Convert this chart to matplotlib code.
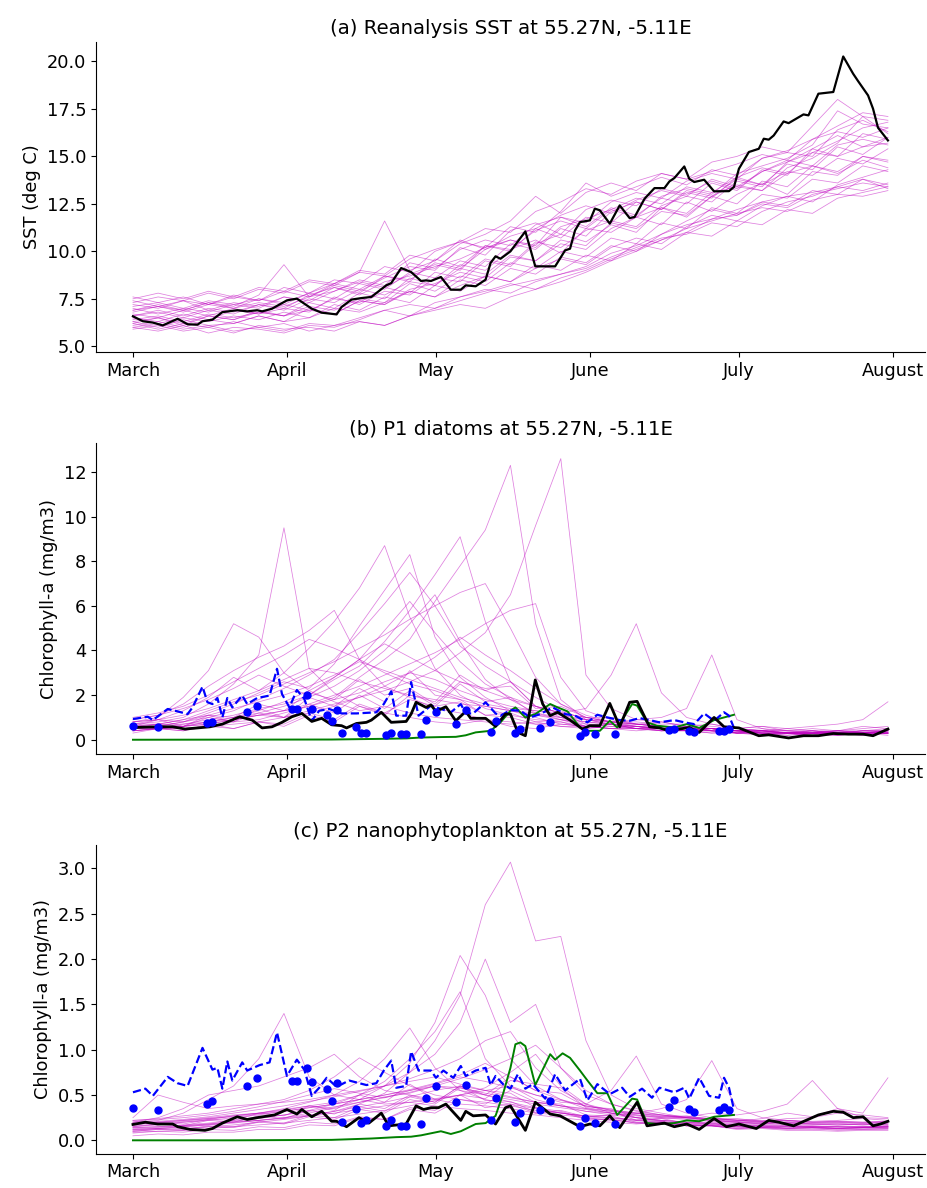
import numpy as np
import matplotlib.pyplot as plt

# month ticks (days since 1 March)
month_days = [0, 31, 61, 92, 122, 153]
month_names = ["March", "April", "May", "June", "July", "August"]

# ensemble members are sampled every ~5 days from 1 March to 31 July
ens_day = np.linspace(0, 152, 31)

sst_ens = [
    [6.2, 6.5, 6.1, 6.6, 6.4, 6.9, 6.6, 7.3, 7.0, 7.8, 7.5, 8.6, 8.2, 9.3, 9.0, 10.1, 10.6, 9.9, 11.2, 11.0, 11.8, 11.4, 12.6, 12.1, 13.0, 13.6, 13.0, 14.2, 14.0, 15.0, 14.7],
    [7.6, 7.3, 7.6, 7.2, 7.7, 7.4, 8.1, 7.8, 8.5, 8.3, 9.2, 8.9, 10.0, 10.5, 10.2, 11.3, 11.0, 12.1, 13.6, 12.9, 13.4, 13.9, 13.5, 14.3, 14.0, 14.9, 15.2, 15.0, 16.4, 16.9, 16.3],
    [6.0, 5.8, 6.1, 5.7, 6.0, 5.9, 5.7, 6.1, 6.0, 6.4, 6.9, 6.6, 7.3, 7.6, 7.9, 8.3, 8.0, 8.6, 9.0, 9.6, 10.1, 10.6, 11.0, 11.7, 11.9, 12.5, 12.3, 13.0, 13.3, 13.6, 13.4],
    [6.8, 7.1, 6.9, 7.3, 7.1, 7.7, 9.3, 7.6, 8.2, 7.9, 8.6, 9.2, 9.0, 10.2, 9.8, 11.1, 11.5, 10.9, 12.2, 12.7, 12.4, 13.3, 13.0, 13.7, 13.3, 14.2, 14.8, 14.5, 15.6, 15.9, 15.6],
    [6.5, 6.3, 6.7, 6.4, 6.9, 6.7, 7.0, 6.8, 7.6, 7.2, 7.9, 7.7, 8.6, 8.4, 9.5, 9.2, 10.4, 10.9, 10.5, 11.4, 11.0, 12.3, 11.8, 12.9, 12.5, 13.7, 13.4, 14.5, 14.1, 14.8, 14.4],
    [7.2, 7.0, 7.4, 6.9, 7.3, 7.1, 7.6, 7.4, 8.1, 7.8, 8.7, 8.4, 9.6, 9.2, 10.3, 10.0, 11.2, 10.7, 11.8, 11.5, 12.6, 12.2, 13.1, 12.8, 13.9, 13.5, 14.6, 14.3, 15.5, 15.1, 16.0],
    [6.1, 6.3, 6.0, 6.4, 6.2, 6.6, 6.3, 7.0, 6.7, 7.4, 7.2, 7.9, 7.6, 8.5, 8.2, 9.1, 8.8, 9.7, 9.4, 10.3, 10.0, 10.9, 11.6, 12.2, 11.9, 12.6, 12.4, 13.2, 13.0, 13.8, 13.5],
    [7.0, 6.7, 7.0, 6.8, 7.2, 7.0, 7.6, 7.3, 7.9, 8.4, 8.1, 8.8, 9.3, 9.0, 10.3, 10.1, 11.1, 11.6, 11.2, 12.2, 12.8, 12.5, 13.4, 13.1, 13.9, 14.4, 14.1, 15.2, 15.8, 16.5, 16.8],
    [6.3, 6.0, 6.4, 6.1, 6.2, 6.6, 6.3, 6.5, 7.0, 6.8, 7.3, 7.9, 7.6, 8.2, 8.7, 8.4, 9.1, 9.6, 9.3, 10.2, 10.7, 10.4, 11.3, 11.9, 11.6, 12.4, 12.9, 12.6, 13.5, 13.9, 14.3],
    [6.6, 6.8, 6.5, 6.9, 6.7, 7.2, 6.9, 7.5, 7.3, 8.0, 7.7, 8.4, 8.2, 9.1, 8.8, 9.8, 9.5, 10.6, 10.3, 11.5, 11.2, 12.1, 11.9, 12.9, 13.5, 13.2, 14.4, 14.9, 15.7, 17.1, 16.2],
    [7.4, 7.1, 7.4, 7.2, 7.6, 7.4, 7.9, 7.6, 8.3, 8.0, 8.7, 8.5, 9.4, 9.1, 10.1, 10.6, 10.3, 11.8, 11.3, 12.3, 11.9, 12.8, 12.5, 13.6, 13.2, 14.3, 14.0, 15.4, 16.1, 15.5, 16.0],
    [5.9, 6.1, 5.8, 6.0, 5.7, 6.1, 5.9, 6.0, 5.8, 6.3, 6.1, 6.6, 6.9, 7.2, 7.0, 7.6, 8.0, 8.4, 8.9, 9.5, 10.0, 10.6, 11.2, 11.6, 12.0, 12.3, 12.1, 12.7, 13.0, 12.9, 13.2],
    [6.9, 7.2, 6.9, 7.3, 7.0, 7.5, 7.2, 7.8, 7.5, 8.3, 8.0, 8.9, 8.6, 9.5, 9.2, 10.4, 10.1, 11.2, 10.8, 12.1, 12.6, 12.2, 13.2, 12.9, 13.8, 13.5, 14.2, 14.0, 14.9, 14.6, 15.4],
    [6.4, 6.6, 6.3, 6.7, 6.5, 6.8, 6.6, 7.1, 6.9, 7.5, 7.3, 8.3, 7.9, 8.7, 8.4, 9.4, 9.1, 10.0, 9.7, 10.7, 10.4, 11.5, 11.2, 12.3, 12.0, 13.0, 12.8, 13.8, 13.6, 14.5, 14.2],
    [7.1, 7.3, 7.0, 7.4, 7.2, 7.5, 7.3, 7.8, 8.3, 8.9, 11.6, 9.0, 9.5, 10.6, 10.1, 10.8, 11.2, 11.9, 12.4, 12.0, 12.7, 13.2, 12.9, 13.8, 13.4, 14.2, 14.7, 15.2, 15.0, 15.5, 15.7],
    [6.2, 5.9, 6.2, 6.0, 6.3, 6.0, 5.8, 6.2, 6.1, 6.5, 6.9, 7.2, 7.0, 7.6, 8.0, 7.8, 8.4, 8.8, 9.1, 9.7, 10.2, 10.7, 10.9, 11.5, 11.3, 12.1, 12.6, 12.9, 13.4, 13.8, 13.3],
    [6.7, 6.5, 6.9, 6.6, 7.0, 6.7, 7.2, 6.9, 7.5, 7.3, 8.1, 7.8, 8.9, 8.6, 9.6, 9.3, 10.5, 10.2, 11.1, 11.6, 11.3, 12.4, 12.9, 12.6, 13.7, 13.4, 14.7, 15.4, 15.0, 16.2, 15.9],
    [7.5, 7.8, 7.5, 7.9, 7.6, 8.1, 7.9, 8.5, 8.3, 9.0, 8.8, 9.8, 9.5, 10.4, 10.9, 11.6, 12.9, 12.0, 13.1, 13.6, 13.2, 14.1, 13.8, 14.2, 14.6, 15.1, 14.8, 15.9, 16.3, 16.0, 16.5],
    [6.0, 6.2, 5.9, 6.1, 5.8, 6.0, 6.2, 5.8, 6.1, 6.3, 6.1, 6.6, 7.0, 7.4, 7.8, 8.2, 8.5, 8.8, 9.2, 9.9, 10.3, 10.9, 11.4, 11.7, 12.2, 12.6, 12.9, 13.1, 13.4, 13.2, 13.6],
    [6.6, 6.9, 6.6, 7.0, 6.8, 7.2, 7.0, 7.7, 8.1, 7.7, 8.4, 8.7, 9.2, 9.6, 10.2, 10.6, 10.2, 11.3, 11.7, 12.2, 11.8, 12.9, 13.3, 13.0, 14.1, 14.5, 14.9, 15.6, 17.4, 16.7, 16.5],
    [6.3, 6.5, 6.2, 6.6, 6.4, 6.8, 6.6, 6.9, 6.7, 7.4, 7.2, 8.0, 8.3, 8.9, 8.6, 9.7, 9.5, 10.4, 10.1, 11.2, 11.8, 12.3, 12.0, 13.1, 13.4, 13.2, 14.1, 14.5, 14.2, 15.0, 14.8],
    [7.3, 7.6, 7.4, 7.8, 7.5, 8.0, 7.8, 8.4, 8.2, 8.9, 8.7, 9.6, 10.1, 10.5, 11.2, 11.0, 12.1, 12.6, 13.3, 13.0, 13.7, 14.1, 13.8, 14.7, 15.0, 15.5, 15.2, 16.6, 18.0, 17.1, 16.9],
    [6.5, 6.2, 6.5, 6.3, 6.6, 6.4, 6.8, 6.5, 7.2, 6.9, 7.6, 7.3, 8.2, 7.9, 8.7, 8.4, 9.3, 9.0, 9.8, 9.5, 10.4, 10.1, 11.0, 10.8, 11.6, 11.4, 12.2, 12.0, 12.8, 13.1, 13.4],
    [6.9, 7.1, 6.8, 7.2, 7.0, 7.3, 7.1, 7.6, 7.9, 8.5, 8.2, 9.4, 9.1, 10.1, 10.6, 10.3, 11.4, 11.8, 11.5, 12.6, 13.1, 12.8, 13.7, 14.1, 13.8, 14.9, 15.3, 15.9, 16.6, 17.3, 17.1],
]

p1_ens = [
    [0.5, 0.7, 0.6, 1.0, 0.8, 1.2, 1.0, 1.9, 1.5, 2.3, 1.7, 3.1, 2.0, 1.8, 1.1, 1.0, 0.7, 0.8, 0.5, 0.7, 0.5, 0.4, 0.6, 0.4, 0.3, 0.4, 0.3, 0.4, 0.3, 0.4, 0.5],
    [0.7, 0.8, 1.0, 1.6, 2.5, 3.8, 9.5, 3.2, 2.1, 1.5, 1.2, 1.0, 0.8, 0.7, 0.9, 0.6, 0.5, 0.7, 0.6, 0.5, 0.4, 0.5, 0.4, 0.3, 0.4, 0.3, 0.3, 0.2, 0.3, 0.3, 0.4],
    [0.4, 0.5, 0.5, 0.6, 0.8, 0.9, 1.2, 1.5, 1.9, 2.8, 3.6, 4.5, 6.2, 7.8, 9.4, 12.3, 5.2, 1.8, 0.9, 0.7, 0.6, 0.5, 0.4, 0.5, 0.3, 0.3, 0.2, 0.3, 0.2, 0.3, 0.3],
    [0.6, 0.5, 0.7, 0.8, 0.9, 1.1, 1.0, 1.3, 1.6, 1.9, 2.2, 2.6, 3.1, 3.9, 4.8, 6.5, 9.6, 12.6, 2.9, 1.4, 0.9, 0.8, 0.6, 0.5, 0.4, 0.4, 0.3, 0.3, 0.4, 0.3, 0.4],
    [0.8, 0.9, 1.3, 1.9, 2.8, 2.2, 3.0, 4.1, 5.3, 6.8, 8.7, 5.5, 3.2, 2.0, 1.4, 1.1, 0.9, 0.8, 0.6, 0.5, 0.6, 0.4, 0.5, 0.4, 0.3, 0.3, 0.3, 0.4, 0.3, 0.3, 0.3],
    [0.5, 0.6, 0.8, 1.2, 1.6, 2.1, 2.6, 2.3, 3.4, 5.1, 6.7, 8.3, 4.6, 2.8, 1.9, 1.3, 1.0, 0.7, 0.6, 0.5, 0.5, 0.5, 0.4, 0.4, 0.3, 0.4, 0.3, 0.3, 0.3, 0.4, 0.4],
    [0.6, 0.7, 0.7, 0.9, 1.1, 1.4, 1.6, 2.0, 2.7, 3.3, 4.4, 5.8, 7.4, 9.1, 5.3, 2.6, 1.5, 1.0, 0.8, 0.7, 0.6, 0.5, 0.5, 0.4, 0.4, 0.3, 0.3, 0.3, 0.2, 0.3, 0.3],
    [0.9, 1.1, 1.6, 2.4, 3.1, 3.7, 4.2, 4.9, 5.8, 3.6, 2.4, 1.9, 1.4, 1.2, 0.9, 0.8, 0.7, 0.6, 0.6, 0.5, 0.5, 0.4, 0.4, 0.4, 0.3, 0.3, 0.3, 0.2, 0.3, 0.3, 0.3],
    [0.8, 1.0, 1.9, 3.1, 5.2, 4.6, 3.0, 2.2, 1.7, 1.3, 1.5, 1.2, 1.0, 0.9, 0.8, 0.7, 0.8, 0.6, 0.5, 0.6, 0.5, 0.4, 0.4, 0.5, 0.3, 0.4, 0.3, 0.3, 0.4, 0.3, 0.4],
    [0.4, 0.5, 0.4, 0.7, 0.5, 0.8, 0.7, 1.2, 0.9, 1.6, 1.2, 1.8, 1.5, 2.5, 1.7, 1.9, 1.1, 1.0, 0.6, 0.7, 0.5, 0.6, 0.4, 0.5, 0.3, 0.3, 0.2, 0.3, 0.3, 0.2, 0.3],
    [0.6, 0.6, 0.8, 1.0, 1.3, 1.8, 2.3, 2.9, 3.6, 4.8, 6.1, 7.5, 6.0, 4.2, 3.3, 2.6, 1.9, 1.3, 0.9, 0.7, 0.6, 0.6, 0.5, 0.5, 0.4, 0.4, 0.3, 0.3, 0.3, 0.3, 0.3],
    [0.5, 0.5, 0.6, 0.7, 0.9, 1.1, 1.3, 1.5, 1.8, 2.1, 2.6, 3.0, 2.7, 2.2, 1.8, 1.5, 1.3, 1.2, 1.4, 2.9, 5.2, 2.1, 1.0, 0.7, 0.5, 0.4, 0.4, 0.3, 0.3, 0.4, 0.4],
    [0.7, 0.7, 0.9, 1.1, 1.4, 1.7, 2.0, 2.4, 2.9, 3.5, 3.1, 2.7, 2.3, 1.9, 1.6, 1.4, 1.3, 1.1, 0.9, 0.8, 0.9, 1.0, 1.4, 3.8, 0.9, 0.5, 0.4, 0.4, 0.3, 0.3, 0.4],
    [0.3, 0.5, 0.4, 0.6, 0.5, 0.8, 0.6, 1.1, 0.8, 1.5, 1.1, 2.0, 1.7, 2.9, 2.2, 2.6, 1.5, 1.2, 0.7, 0.7, 0.5, 0.5, 0.4, 0.3, 0.3, 0.2, 0.3, 0.2, 0.2, 0.3, 0.2],
    [0.6, 0.7, 0.9, 1.3, 1.7, 2.0, 2.5, 3.0, 3.5, 4.1, 4.7, 5.4, 6.0, 6.6, 7.0, 5.0, 2.8, 1.6, 1.0, 0.8, 0.7, 0.6, 0.5, 0.5, 0.4, 0.4, 0.3, 0.3, 0.3, 0.3, 0.4],
    [1.0, 1.2, 1.5, 2.0, 2.6, 3.2, 3.8, 4.5, 4.1, 3.6, 3.0, 2.5, 2.2, 1.8, 1.5, 1.3, 1.1, 0.9, 0.8, 0.7, 0.7, 0.6, 0.6, 0.5, 0.4, 0.4, 0.5, 0.4, 0.4, 0.5, 0.6],
    [0.5, 0.6, 0.6, 0.8, 1.0, 1.2, 1.5, 1.9, 2.4, 3.1, 4.0, 5.2, 6.5, 4.4, 2.7, 1.8, 1.2, 0.9, 0.7, 0.6, 0.6, 0.5, 0.5, 0.4, 0.4, 0.3, 0.3, 0.3, 0.3, 0.3, 0.3],
    [0.4, 0.5, 0.6, 0.7, 0.9, 1.1, 1.3, 1.6, 2.0, 2.4, 2.9, 3.4, 3.9, 4.5, 5.2, 5.8, 6.1, 2.8, 1.3, 0.9, 0.7, 0.6, 0.5, 0.5, 0.4, 0.3, 0.3, 0.3, 0.3, 0.2, 0.3],
    [0.6, 0.9, 0.6, 1.1, 0.8, 1.4, 1.0, 1.6, 1.2, 2.0, 1.4, 2.2, 1.5, 1.7, 1.1, 1.2, 0.8, 0.9, 0.6, 0.7, 0.5, 0.6, 0.4, 0.5, 0.4, 0.5, 0.3, 0.4, 0.3, 0.4, 0.3],
    [0.9, 1.1, 1.4, 1.8, 2.3, 2.9, 2.4, 2.0, 2.8, 3.6, 4.3, 3.7, 3.1, 2.6, 2.2, 1.8, 1.5, 1.2, 1.0, 0.8, 0.7, 0.6, 0.6, 0.5, 0.5, 0.4, 0.4, 0.3, 0.4, 0.4, 0.4],
    [0.5, 0.5, 0.6, 0.8, 1.0, 1.3, 1.7, 2.2, 2.8, 3.6, 4.9, 6.2, 4.8, 3.5, 2.5, 1.9, 1.5, 1.2, 1.0, 0.8, 0.7, 0.6, 0.5, 0.5, 0.4, 0.4, 0.3, 0.3, 0.4, 0.3, 0.3],
    [0.7, 0.9, 0.8, 1.1, 1.0, 1.6, 1.3, 2.1, 1.8, 2.7, 2.0, 2.3, 1.6, 2.6, 2.3, 2.4, 1.4, 1.5, 1.0, 1.0, 0.7, 0.8, 0.6, 0.7, 0.5, 0.6, 0.4, 0.5, 0.4, 0.6, 0.5],
    [0.4, 0.5, 0.5, 0.6, 0.7, 0.8, 1.0, 1.2, 1.5, 1.9, 2.4, 3.0, 3.7, 4.6, 3.8, 3.1, 2.3, 1.6, 1.1, 0.8, 0.6, 0.5, 0.5, 0.4, 0.4, 0.3, 0.3, 0.3, 0.3, 0.3, 0.3],
    [0.8, 0.9, 1.1, 1.4, 1.8, 2.2, 2.7, 3.2, 3.0, 2.6, 2.3, 2.0, 1.8, 1.6, 1.5, 1.3, 1.2, 1.0, 0.9, 0.8, 0.8, 0.7, 0.7, 0.6, 0.5, 0.6, 0.5, 0.6, 0.7, 0.9, 1.7],
]

p2_ens = [
    [0.15, 0.18, 0.16, 0.22, 0.2, 0.27, 0.24, 0.33, 0.29, 0.4, 0.35, 0.5, 0.42, 0.6, 0.55, 0.52, 0.36, 0.32, 0.24, 0.23, 0.19, 0.19, 0.16, 0.16, 0.13, 0.14, 0.13, 0.14, 0.12, 0.13, 0.14],
    [0.2, 0.22, 0.3, 0.45, 0.6, 0.9, 1.4, 0.7, 0.5, 0.45, 0.4, 0.42, 0.38, 0.35, 0.33, 0.3, 0.28, 0.25, 0.22, 0.2, 0.18, 0.2, 0.17, 0.16, 0.15, 0.14, 0.15, 0.14, 0.13, 0.14, 0.15],
    [0.1, 0.12, 0.13, 0.15, 0.17, 0.2, 0.23, 0.27, 0.32, 0.4, 0.52, 0.75, 1.1, 1.6, 2.6, 3.07, 2.2, 2.25, 1.1, 0.5, 0.35, 0.3, 0.25, 0.22, 0.2, 0.18, 0.17, 0.16, 0.15, 0.15, 0.16],
    [0.12, 0.13, 0.15, 0.17, 0.2, 0.22, 0.25, 0.3, 0.36, 0.45, 0.6, 0.85, 1.3, 2.04, 1.6, 0.9, 0.6, 0.45, 0.35, 0.3, 0.25, 0.22, 0.2, 0.19, 0.18, 0.17, 0.16, 0.15, 0.15, 0.14, 0.15],
    [0.18, 0.2, 0.22, 0.25, 0.28, 0.3, 0.33, 0.38, 0.42, 0.5, 0.6, 0.75, 0.95, 1.3, 2.0, 1.3, 1.5, 0.8, 0.5, 0.4, 0.33, 0.28, 0.25, 0.22, 0.2, 0.19, 0.18, 0.17, 0.18, 0.17, 0.18],
    [0.2, 0.25, 0.35, 0.5, 0.55, 0.6, 0.7, 0.8, 0.95, 0.7, 0.55, 0.5, 0.45, 0.4, 0.38, 0.35, 0.3, 0.28, 0.25, 0.22, 0.2, 0.2, 0.18, 0.17, 0.16, 0.15, 0.15, 0.14, 0.15, 0.14, 0.15],
    [0.15, 0.17, 0.2, 0.23, 0.27, 0.3, 0.35, 0.42, 0.5, 0.65, 0.9, 1.24, 0.8, 0.55, 0.45, 0.4, 0.35, 0.3, 0.27, 0.25, 0.22, 0.2, 0.19, 0.18, 0.17, 0.16, 0.16, 0.15, 0.16, 0.15, 0.16],
    [0.22, 0.24, 0.27, 0.3, 0.35, 0.4, 0.45, 0.55, 0.7, 0.91, 0.75, 0.6, 0.5, 0.45, 0.42, 0.38, 0.33, 0.3, 0.27, 0.25, 0.23, 0.22, 0.2, 0.2, 0.19, 0.18, 0.2, 0.19, 0.2, 0.19, 0.2],
    [0.14, 0.15, 0.16, 0.18, 0.2, 0.22, 0.24, 0.27, 0.3, 0.34, 0.38, 0.42, 0.46, 0.5, 0.55, 0.6, 0.5, 0.42, 0.4, 0.55, 0.93, 0.4, 0.3, 0.25, 0.22, 0.2, 0.19, 0.18, 0.18, 0.17, 0.18],
    [0.16, 0.18, 0.2, 0.22, 0.25, 0.28, 0.32, 0.36, 0.4, 0.45, 0.5, 0.55, 0.6, 0.58, 0.52, 0.47, 0.42, 0.38, 0.35, 0.32, 0.3, 0.35, 0.45, 0.88, 0.35, 0.25, 0.22, 0.2, 0.2, 0.19, 0.2],
    [0.12, 0.13, 0.15, 0.17, 0.19, 0.22, 0.25, 0.28, 0.32, 0.37, 0.42, 0.48, 0.55, 0.6, 0.5, 0.42, 0.36, 0.3, 0.26, 0.24, 0.22, 0.24, 0.26, 0.3, 0.28, 0.32, 0.4, 0.66, 0.35, 0.3, 0.69],
    [0.08, 0.1, 0.09, 0.12, 0.11, 0.15, 0.14, 0.2, 0.18, 0.26, 0.23, 0.34, 0.3, 0.45, 0.4, 0.55, 0.42, 0.4, 0.28, 0.27, 0.2, 0.2, 0.16, 0.16, 0.13, 0.14, 0.12, 0.13, 0.11, 0.12, 0.12],
    [0.25, 0.5, 0.42, 0.35, 0.38, 0.4, 0.42, 0.45, 0.5, 0.55, 0.6, 0.65, 0.7, 0.62, 0.55, 0.48, 0.42, 0.38, 0.34, 0.3, 0.28, 0.26, 0.25, 0.24, 0.22, 0.21, 0.22, 0.2, 0.21, 0.2, 0.21],
    [0.05, 0.07, 0.06, 0.09, 0.09, 0.12, 0.12, 0.17, 0.16, 0.25, 0.23, 0.36, 0.33, 0.5, 0.46, 0.66, 0.62, 0.58, 0.36, 0.32, 0.22, 0.21, 0.16, 0.16, 0.12, 0.13, 0.11, 0.11, 0.1, 0.11, 0.11],
    [0.2, 0.21, 0.23, 0.26, 0.3, 0.34, 0.38, 0.43, 0.48, 0.54, 0.6, 0.68, 0.78, 0.9, 1.1, 1.2, 0.8, 0.55, 0.4, 0.33, 0.28, 0.25, 0.23, 0.21, 0.2, 0.19, 0.2, 0.18, 0.19, 0.18, 0.19],
    [0.13, 0.14, 0.16, 0.18, 0.21, 0.24, 0.28, 0.33, 0.4, 0.5, 0.65, 0.9, 1.2, 1.64, 0.9, 0.6, 0.45, 0.38, 0.32, 0.28, 0.25, 0.22, 0.2, 0.18, 0.17, 0.16, 0.15, 0.15, 0.14, 0.15, 0.15],
    [0.18, 0.19, 0.21, 0.24, 0.27, 0.3, 0.34, 0.38, 0.35, 0.42, 0.48, 0.52, 0.6, 0.55, 0.5, 0.45, 0.4, 0.36, 0.32, 0.3, 0.27, 0.25, 0.24, 0.22, 0.21, 0.24, 0.3, 0.26, 0.35, 0.25, 0.24],
    [0.1, 0.12, 0.11, 0.15, 0.14, 0.2, 0.18, 0.26, 0.23, 0.34, 0.3, 0.45, 0.4, 0.58, 0.5, 0.7, 0.55, 0.52, 0.37, 0.35, 0.25, 0.24, 0.19, 0.19, 0.15, 0.16, 0.13, 0.14, 0.13, 0.14, 0.14],
    [0.22, 0.23, 0.25, 0.28, 0.32, 0.37, 0.43, 0.5, 0.57, 0.52, 0.47, 0.55, 0.62, 0.7, 0.65, 0.58, 0.5, 0.44, 0.38, 0.34, 0.3, 0.28, 0.26, 0.24, 0.23, 0.22, 0.21, 0.2, 0.21, 0.2, 0.21],
    [0.14, 0.15, 0.17, 0.19, 0.22, 0.25, 0.28, 0.32, 0.37, 0.42, 0.47, 0.53, 0.6, 0.68, 0.78, 0.9, 1.05, 0.8, 0.55, 0.4, 0.32, 0.28, 0.25, 0.23, 0.21, 0.2, 0.19, 0.18, 0.17, 0.18, 0.17],
    [0.17, 0.2, 0.18, 0.23, 0.22, 0.3, 0.27, 0.38, 0.33, 0.5, 0.42, 0.62, 0.45, 0.5, 0.36, 0.4, 0.3, 0.33, 0.26, 0.28, 0.3, 0.26, 0.27, 0.23, 0.24, 0.21, 0.24, 0.25, 0.3, 0.28, 0.25],
    [0.09, 0.1, 0.11, 0.13, 0.15, 0.17, 0.19, 0.22, 0.25, 0.29, 0.33, 0.38, 0.44, 0.5, 0.58, 0.75, 0.95, 0.6, 0.4, 0.3, 0.25, 0.21, 0.18, 0.16, 0.15, 0.14, 0.13, 0.12, 0.13, 0.12, 0.13],
    [0.19, 0.2, 0.22, 0.24, 0.26, 0.29, 0.32, 0.36, 0.4, 0.45, 0.5, 0.56, 0.63, 0.72, 0.85, 0.7, 0.55, 0.45, 0.38, 0.33, 0.3, 0.27, 0.25, 0.24, 0.22, 0.21, 0.22, 0.21, 0.22, 0.24, 0.22],
    [0.11, 0.13, 0.12, 0.16, 0.15, 0.21, 0.19, 0.28, 0.25, 0.37, 0.32, 0.48, 0.42, 0.6, 0.44, 0.43, 0.31, 0.31, 0.23, 0.23, 0.19, 0.19, 0.16, 0.17, 0.14, 0.15, 0.14, 0.15, 0.13, 0.14, 0.13],
]

# reanalysis SST (black line)
sst_day = [0, 2, 4, 6, 9, 11, 13, 14, 16, 18, 21, 23, 25, 26, 28, 31, 33, 36, 38, 41, 42, 44, 46, 48, 51, 52, 54, 56, 58, 59, 60, 62, 64, 66, 67, 69, 71, 72, 73, 74, 76, 79, 81, 85, 87, 88, 89, 90, 92, 93, 94, 96, 98, 100, 101, 103, 105, 107, 108, 109, 111, 112, 113, 115, 117, 120, 121, 122, 124, 126, 127, 128, 129, 131, 132, 135, 136, 138, 141, 143, 145, 146, 148, 149, 150, 152]
sst_rean = [6.58, 6.32, 6.25, 6.1, 6.45, 6.16, 6.14, 6.32, 6.4, 6.8, 6.9, 6.84, 6.9, 6.84, 6.98, 7.42, 7.51, 6.98, 6.77, 6.68, 7.07, 7.46, 7.54, 7.6, 8.21, 8.33, 9.12, 8.91, 8.44, 8.47, 8.44, 8.65, 7.98, 7.98, 8.21, 8.16, 8.51, 9.39, 9.74, 9.61, 10.0, 11.05, 9.21, 9.21, 10.05, 10.14, 11.1, 11.54, 11.63, 12.25, 12.16, 11.46, 12.42, 11.75, 11.81, 12.77, 13.33, 13.33, 13.68, 13.86, 14.47, 13.82, 13.65, 13.77, 13.16, 13.17, 13.39, 14.35, 15.23, 15.4, 15.93, 15.88, 16.1, 16.84, 16.75, 17.21, 17.16, 18.3, 18.39, 20.26, 19.35, 18.96, 18.21, 17.51, 16.51, 15.84]

# black line, panels b and c
ctl_day = [0, 5, 8, 10.5, 15.5, 18, 21.5, 24, 26, 28, 30, 32, 34, 36, 38, 40, 42, 43, 45, 47, 48, 50, 52, 55, 56, 57, 59, 60, 61, 63, 65, 67, 68, 71, 73, 75, 76, 77.5, 79, 81, 82.5, 84, 85.5, 88, 90.5, 92, 94, 96, 98, 100, 101.5, 104, 106, 108, 110, 112, 114, 117, 119, 122, 126, 128, 132, 135, 138, 141, 144, 147, 149, 152]
p1_ctl = [0.55, 0.58, 0.58, 0.48, 0.58, 0.7, 1.03, 0.88, 0.53, 0.58, 0.78, 1.03, 1.18, 0.82, 0.96, 0.67, 0.63, 0.53, 0.73, 0.78, 0.88, 1.23, 0.78, 0.82, 1.15, 1.68, 1.45, 1.56, 1.27, 1.48, 0.85, 1.27, 0.96, 0.96, 0.6, 1.15, 1.15, 0.33, 0.18, 2.68, 1.6, 1.08, 1.23, 0.88, 0.48, 0.63, 0.63, 1.63, 0.58, 1.68, 1.72, 0.58, 0.53, 0.4, 0.48, 0.55, 0.33, 1.0, 0.58, 0.53, 0.18, 0.22, 0.08, 0.18, 0.18, 0.28, 0.25, 0.25, 0.18, 0.48]
p2_ctl_day = [0, 2.5, 5, 8, 9, 11.5, 14.5, 16, 18, 21, 23, 25, 28.5, 31, 33, 34, 36, 38, 40, 41, 43, 45.5, 47.5, 50, 51.5, 55, 57, 58.5, 60, 61.5, 63, 66, 67, 68.5, 71, 73, 75, 76, 79, 81, 84, 86, 90, 92, 94, 96, 98, 101.5, 103.5, 107, 109, 111.5, 114, 117, 119.5, 122, 125.5, 128, 130, 133, 135.5, 138, 141, 143, 145, 147, 149, 150.5, 152]
p2_ctl = [0.175, 0.2, 0.18, 0.18, 0.15, 0.12, 0.11, 0.13, 0.19, 0.26, 0.23, 0.25, 0.28, 0.34, 0.29, 0.34, 0.26, 0.32, 0.21, 0.21, 0.15, 0.25, 0.19, 0.3, 0.16, 0.18, 0.38, 0.34, 0.36, 0.36, 0.4, 0.22, 0.32, 0.27, 0.28, 0.18, 0.36, 0.38, 0.11, 0.42, 0.29, 0.27, 0.15, 0.18, 0.16, 0.27, 0.14, 0.42, 0.16, 0.19, 0.15, 0.18, 0.12, 0.24, 0.15, 0.18, 0.13, 0.22, 0.2, 0.16, 0.22, 0.28, 0.32, 0.31, 0.25, 0.26, 0.16, 0.18, 0.21]

# blue dashed line
p1_dash_day = [0, 3, 4, 7, 9, 11, 12, 14, 15, 16, 17, 18, 19, 20, 22, 23, 25, 27.5, 29, 30, 31.5, 33, 34.5, 36, 37.5, 39.5, 42, 45, 49, 50.5, 52, 53, 55, 56, 57.5, 60, 62, 64, 66, 67, 68.5, 71, 73, 74, 76, 78, 80, 82, 84.5, 87, 89, 91.5, 93.5, 95.5, 98, 100, 102, 104, 106, 109, 111, 113, 115, 117, 119, 120, 121]
p1_dash = [0.93, 1.03, 0.88, 1.38, 1.27, 1.15, 1.45, 2.38, 1.68, 1.6, 1.87, 1.0, 1.87, 1.45, 1.98, 1.6, 1.87, 1.98, 3.18, 2.05, 1.45, 2.23, 1.83, 0.85, 1.3, 1.38, 1.18, 1.18, 1.23, 1.6, 2.17, 1.08, 1.08, 2.58, 1.08, 1.53, 1.38, 1.23, 1.6, 1.18, 1.18, 1.68, 1.18, 1.08, 1.33, 1.3, 1.0, 1.15, 1.45, 1.15, 1.08, 0.78, 1.12, 1.0, 0.88, 0.85, 0.97, 0.88, 0.78, 0.88, 0.78, 0.7, 1.18, 0.85, 1.23, 1.08, 0.53]
p2_dash_day = [0, 2.5, 4, 7, 9, 11, 14, 16, 17, 18, 19, 20, 22, 23, 25.5, 27.5, 29, 31, 33, 34.5, 36, 37.5, 39, 41, 43.5, 47, 49, 50.5, 52, 53, 55, 56, 57.5, 60, 61, 62.5, 64.5, 66, 67, 69, 71, 72, 73, 74.5, 76, 77.5, 79, 80.5, 83, 85, 87, 90, 91.5, 93.5, 96, 98.5, 100, 102.5, 104.5, 106, 109, 111, 112, 114, 116, 118, 119, 120, 121]
p2_dash = [0.53, 0.57, 0.49, 0.7, 0.63, 0.6, 1.02, 0.78, 0.8, 0.57, 0.87, 0.66, 0.86, 0.77, 0.83, 0.86, 1.19, 0.71, 0.89, 0.78, 0.49, 0.58, 0.69, 0.59, 0.66, 0.61, 0.63, 0.77, 0.88, 0.58, 0.6, 0.98, 0.77, 0.77, 0.69, 0.77, 0.69, 0.82, 0.71, 0.77, 0.8, 0.61, 0.71, 0.62, 0.57, 0.73, 0.57, 0.62, 0.46, 0.73, 0.55, 0.68, 0.44, 0.62, 0.51, 0.58, 0.48, 0.57, 0.47, 0.58, 0.53, 0.58, 0.46, 0.69, 0.49, 0.47, 0.69, 0.58, 0.34]

# green line
p1_green_day = [0, 40, 50, 55, 58, 62, 65, 67, 69, 72, 74, 76, 77, 79, 81, 84, 85.5, 87.5, 90, 91.5, 94, 96, 97.5, 100.5, 101.5, 103.5, 105.5, 109, 111.5, 114, 117, 121]
p1_green = [0.0, 0.01, 0.04, 0.06, 0.1, 0.12, 0.13, 0.2, 0.33, 0.4, 0.78, 1.3, 1.45, 1.0, 1.15, 1.6, 1.45, 1.27, 0.55, 0.4, 0.4, 0.85, 0.55, 1.6, 1.53, 0.78, 0.63, 0.55, 0.7, 0.53, 0.88, 1.12]
p2_green_day = [0, 20, 40, 48, 53, 56, 58, 62, 64, 66, 69, 71, 73, 74.5, 76, 77, 78, 79, 81, 84, 85, 86.5, 88, 90, 91.5, 93.5, 95.5, 97.5, 100.5, 101.5, 103.5, 106, 109, 111.5, 114, 117, 121]
p2_green = [0.0, 0.0, 0.005, 0.02, 0.035, 0.04, 0.055, 0.1, 0.07, 0.1, 0.18, 0.19, 0.27, 0.51, 0.8, 1.06, 1.08, 1.04, 0.61, 0.95, 0.89, 0.96, 0.91, 0.77, 0.66, 0.52, 0.52, 0.28, 0.46, 0.45, 0.19, 0.18, 0.19, 0.22, 0.21, 0.26, 0.28]

# observations (blue dots)
obs_day = [0, 5, 15, 16, 23, 25, 32, 33, 35, 36, 39, 40, 41, 42, 45, 46, 47, 51, 52, 54, 55, 58, 59, 61, 65, 67, 72, 73, 77, 78, 82, 84, 90, 91, 93, 97, 108, 109, 112, 113, 118, 119, 120]
p1_obs = [0.63, 0.55, 0.73, 0.78, 1.23, 1.53, 1.38, 1.38, 2.02, 1.38, 1.12, 0.82, 1.33, 0.28, 0.58, 0.3, 0.3, 0.22, 0.28, 0.25, 0.25, 0.25, 0.88, 1.23, 0.7, 1.33, 0.33, 0.85, 0.28, 0.48, 0.53, 0.78, 0.18, 0.33, 0.25, 0.25, 0.45, 0.5, 0.4, 0.33, 0.4, 0.37, 0.48]
p2_obs = [0.36, 0.34, 0.4, 0.43, 0.6, 0.69, 0.65, 0.65, 0.8, 0.64, 0.57, 0.43, 0.63, 0.2, 0.35, 0.19, 0.22, 0.16, 0.22, 0.16, 0.16, 0.18, 0.47, 0.6, 0.42, 0.61, 0.22, 0.47, 0.2, 0.3, 0.33, 0.43, 0.16, 0.25, 0.19, 0.18, 0.37, 0.45, 0.35, 0.31, 0.34, 0.37, 0.33]

fig = plt.figure(figsize=(9.28, 11.88), dpi=100)
ax_a = fig.add_axes([0.1034, 0.7037, 0.8933, 0.2609])
ax_b = fig.add_axes([0.1034, 0.3653, 0.8933, 0.2618])
ax_c = fig.add_axes([0.1034, 0.0290, 0.8933, 0.2598])

# (a) SST
for m in sst_ens:
    ax_a.plot(ens_day, m, color="m", lw=0.55, alpha=0.5)
ax_a.plot(sst_day, sst_rean, color="black", lw=1.6)
ax_a.set_ylim(4.7, 21.02)
ax_a.set_yticks([5.0, 7.5, 10.0, 12.5, 15.0, 17.5, 20.0])
ax_a.set_ylabel("SST (deg C)", fontsize=12.8)
ax_a.set_title("(a) Reanalysis SST at 55.27N, -5.11E", fontsize=14.2)

# (b) diatoms
for m in p1_ens:
    ax_b.plot(ens_day, m, color="m", lw=0.55, alpha=0.5)
ax_b.plot(p1_green_day, p1_green, color="green", lw=1.4)
ax_b.plot(p1_dash_day, p1_dash, "b--", lw=1.6)
ax_b.plot(ctl_day, p1_ctl, color="black", lw=2.0)
ax_b.plot(obs_day, p1_obs, "o", color="blue", ms=5)
ax_b.set_ylim(-0.64, 13.3)
ax_b.set_yticks([0, 2, 4, 6, 8, 10, 12])
ax_b.set_ylabel("Chlorophyll-a (mg/m3)", fontsize=12.8)
ax_b.set_title("(b) P1 diatoms at 55.27N, -5.11E", fontsize=14.2)

# (c) nanophytoplankton
for m in p2_ens:
    ax_c.plot(ens_day, m, color="m", lw=0.55, alpha=0.5)
ax_c.plot(p2_green_day, p2_green, color="green", lw=1.4)
ax_c.plot(p2_dash_day, p2_dash, "b--", lw=1.6)
ax_c.plot(p2_ctl_day, p2_ctl, color="black", lw=2.0)
ax_c.plot(obs_day, p2_obs, "o", color="blue", ms=5)
ax_c.set_ylim(-0.146, 3.26)
ax_c.set_yticks([0.0, 0.5, 1.0, 1.5, 2.0, 2.5, 3.0])
ax_c.set_ylabel("Chlorophyll-a (mg/m3)", fontsize=12.8)
ax_c.set_title("(c) P2 nanophytoplankton at 55.27N, -5.11E", fontsize=14.2)

for ax in (ax_a, ax_b, ax_c):
    ax.set_xlim(-7.45, 159.45)
    ax.set_xticks(month_days)
    ax.set_xticklabels(month_names)
    ax.tick_params(labelsize=12.8)
    ax.spines["top"].set_visible(False)
    ax.spines["right"].set_visible(False)

plt.savefig("out.png", dpi=100)
